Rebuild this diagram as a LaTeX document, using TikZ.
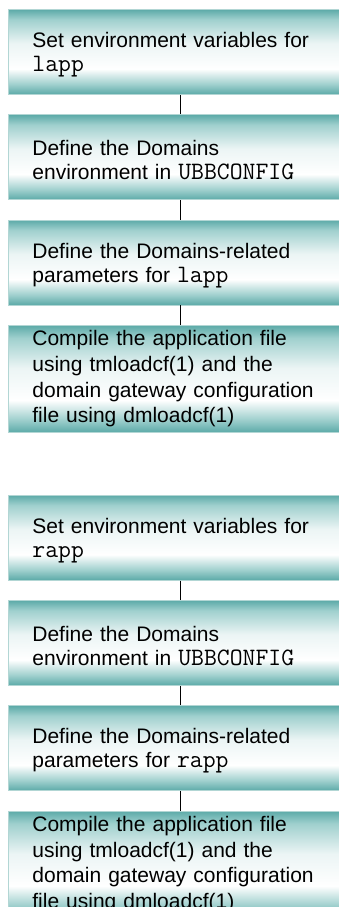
\documentclass[tikz,border=0pt]{standalone}
\usepackage{fontspec}
\setmainfont{Liberation Sans}
\usepackage{tikz}
\usetikzlibrary{positioning}
\newcommand{\code}[1]{{\fontsize{25}{24}\ttfamily #1}}
\definecolor{tealdark}{RGB}{92,170,168}
\definecolor{tealmid}{RGB}{160,208,206}
\definecolor{boxedge}{RGB}{178,214,212}
\pgfdeclareverticalshading{stepshade}{100bp}{color(0bp)=(tealdark); color(25bp)=(tealdark);
   color(31bp)=(tealmid); color(40bp)=(white); color(55bp)=(white!88!tealdark);
   color(69bp)=(tealmid); color(75bp)=(tealdark); color(100bp)=(tealdark)}

\begin{document}
\begin{tikzpicture}[
   x=1pt, y=1pt,
   node distance=19.5pt,
   stepbox/.style={draw=boxedge, line width=0.8pt, shading=stepshade, align=left,
      text width=296pt, inner xsep=24pt, inner ysep=2pt, minimum height=85pt,
      font=\fontsize{21}{24}\selectfont, execute at begin node={\rule{0pt}{21pt}}},
   tallbox/.style={draw=boxedge, line width=0.8pt, shading=stepshade, align=left,
      text width=296pt, inner xsep=24pt, inner ysep=1pt, minimum height=107pt,
      font=\fontsize{21}{25.7}\selectfont},
   link/.style={line width=1.3pt, black}
]
\useasboundingbox (0,0) rectangle (339,-907);
\clip (0,0) rectangle (339,-907);

\node[stepbox, anchor=north west] (L1) at (8,-9) {Set environment variables for\\\code{lapp}};
\node[stepbox, below=of L1] (L2) {Define the Domains\\environment in \code{UBBCONFIG}};
\node[stepbox, below=of L2] (L3) {Define the Domains-related\\parameters for \code{lapp}};
\node[tallbox, below=of L3] (L4)
   {Compile the application file\\using tmloadcf(1) and the\\domain gateway configuration\\file using dmloadcf(1)};

\node[stepbox, below=62pt of L4] (R1) {Set environment variables for\\\code{rapp}};
\node[stepbox, below=of R1] (R2) {Define the Domains\\environment in \code{UBBCONFIG}};
\node[stepbox, below=of R2] (R3) {Define the Domains-related\\parameters for \code{rapp}};
\node[tallbox, below=of R3] (R4)
   {Compile the application file\\using tmloadcf(1) and the\\domain gateway configuration\\file using dmloadcf(1)};

\draw[link] (L1) -- (L2);
\draw[link] (L2) -- (L3);
\draw[link] (L3) -- (L4);
\draw[link] (R1) -- (R2);
\draw[link] (R2) -- (R3);
\draw[link] (R3) -- (R4);
\end{tikzpicture}
\end{document}
